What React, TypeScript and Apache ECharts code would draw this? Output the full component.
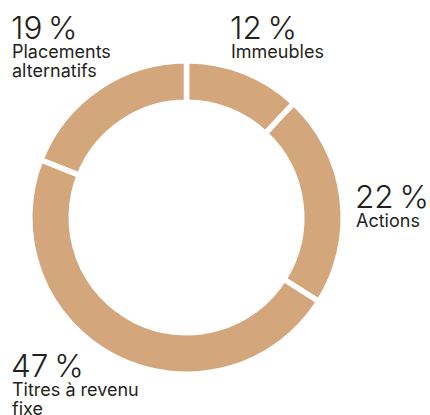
import React, { useEffect, useRef } from "react";
import * as echarts from "echarts";

const categories = ["Immeubles", "Actions", "Titres à revenu\nfixe", "Placements\nalternatifs"];
const values = [12, 22, 47, 19];
const labelAnchors: [number, number][] = [
  [230, 11],
  [355, 180],
  [11, 349],
  [11, 11],
];

const RING = "#d4a67c";
const INK = "#231f20";
const FONT = "Inter, 'Liberation Sans', Arial, sans-serif";

export default function App() {
  const ref = useRef<HTMLDivElement>(null);
  useEffect(() => {
    document.body.style.margin = "0";
    if (!ref.current) return;
    const chart = echarts.init(ref.current, null, { renderer: "svg" });
    const graphics = values.map((v, i) => {
      const [x, y] = labelAnchors[i];
      const lines = categories[i].split("\n").map((l) => `{t|${l}}`).join("\n");
      return {
        type: "text",
        left: x,
        top: y,
        style: {
          text: `{n|${v}\u2009%}\n${lines}`,
          fill: INK,
          rich: {
            n: {
              fontFamily: FONT,
              fontWeight: 300,
              fontSize: 31.5,
              lineHeight: 30,
              fill: INK,
            },
            t: {
              fontFamily: FONT,
              fontWeight: 400,
              fontSize: 18,
              lineHeight: 19,
              fill: INK,
              padding: [0, 0, 0, 1],
            },
          },
        },
      };
    });
    chart.setOption({
      animation: false,
      series: [
        {
          type: "pie",
          center: [186.5, 217.5],
          radius: [115.25, 156.75],
          startAngle: 90,
          clockwise: true,
          label: { show: false },
          labelLine: { show: false },
          emphasis: { disabled: true },
          itemStyle: { color: RING, borderColor: "#ffffff", borderWidth: 5.5 },
          data: values.map((v, i) => ({ name: categories[i], value: v })),
        },
      ],
      graphic: graphics,
    });
    return () => chart.dispose();
  }, []);
  return <div ref={ref} style={{ width: 430, height: 415 }} />;
}
